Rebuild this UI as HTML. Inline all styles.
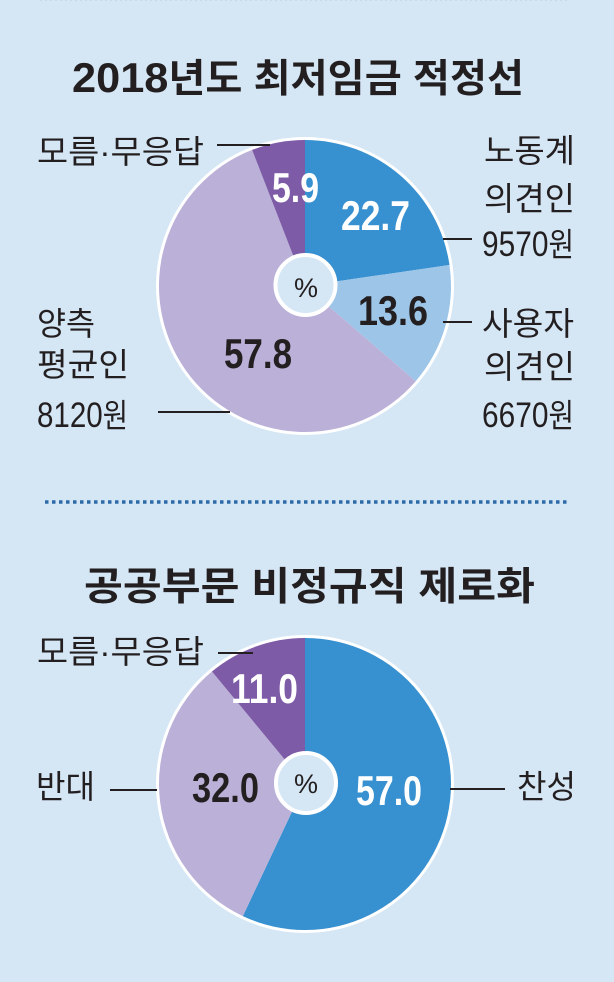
<!DOCTYPE html>
<html lang="ko">
<head>
<meta charset="utf-8">
<style>
  html, body { margin: 0; padding: 0; background: #d5e6f5; }
  body { width: 614px; height: 982px; overflow: hidden; }
  svg { display: block; }
  text { font-family: "Liberation Sans", "Noto Sans CJK KR", sans-serif; }
  .lbl { font-size: 32.5px; fill: #231f20; }
  .num { font-size: 42px; font-weight: bold; }
  .ttl { font-size: 39px; font-weight: bold; fill: #231f20; }
</style>
</head>
<body>
<svg width="614" height="982" viewBox="0 0 614 982" xmlns="http://www.w3.org/2000/svg">
  <rect x="0" y="0" width="614" height="982" fill="#d5e6f5"/>

  <!-- faint top dotted line -->
  <line x1="40" y1="0.5" x2="570" y2="0.5" stroke="#c4d0dc" stroke-width="1" stroke-dasharray="2 3" opacity="0.6"/>

  <!-- ===== Title 1 ===== -->
  <text class="ttl" x="72" y="92" textLength="452" lengthAdjust="spacingAndGlyphs"><tspan font-size="42">2018</tspan>년도 최저임금 적정선</text>

  <!-- ===== Pie 1 ===== -->
  <circle cx="305" cy="286" r="149" fill="#ffffff"/>
  <path d="M305,286 L305,140 A146,146 0 0 1 449.48,264.97 Z" fill="#3790cf"/>
  <path d="M305,286 L449.48,264.97 A146,146 0 0 1 415.70,381.19 Z" fill="#9cc5e8"/>
  <path d="M305,286 L415.70,381.19 A146,146 0 1 1 252.11,149.92 Z" fill="#bbb0d8"/>
  <path d="M305,286 L252.11,149.92 A146,146 0 0 1 305,140 Z" fill="#7d5ba6"/>
  <circle cx="305.5" cy="285" r="30" fill="#d5e6f5" stroke="#ffffff" stroke-width="4"/>
  <text x="306" y="297" font-size="27" text-anchor="middle" fill="#231f20">%</text>

  <text class="num" x="272" y="202" font-size="38" fill="#ffffff" textLength="47" lengthAdjust="spacingAndGlyphs">5.9</text>
  <text class="num" x="341" y="230" fill="#ffffff" textLength="69" lengthAdjust="spacingAndGlyphs">22.7</text>
  <text class="num" x="358" y="325" fill="#231f20" textLength="70" lengthAdjust="spacingAndGlyphs">13.6</text>
  <text class="num" x="224" y="368" fill="#231f20" textLength="68" lengthAdjust="spacingAndGlyphs">57.8</text>

  <!-- leader lines pie 1 -->
  <g stroke="#231f20" stroke-width="2">
    <line x1="217" y1="145" x2="270" y2="145"/>
    <line x1="158" y1="412" x2="230" y2="412"/>
    <line x1="443" y1="239" x2="472" y2="239"/>
    <line x1="443" y1="322" x2="472" y2="322"/>
  </g>

  <!-- labels pie 1 -->
  <text class="lbl" x="37" y="163" textLength="167" lengthAdjust="spacingAndGlyphs">모름·무응답</text>
  <text class="lbl" x="37" y="335" textLength="58" lengthAdjust="spacingAndGlyphs">양측</text>
  <text class="lbl" x="37" y="376" textLength="92" lengthAdjust="spacingAndGlyphs">평균인</text>
  <text class="lbl" x="37" y="427" textLength="91" lengthAdjust="spacingAndGlyphs"><tspan font-size="35">8120</tspan>원</text>

  <text class="lbl" x="484" y="162" textLength="91" lengthAdjust="spacingAndGlyphs">노동계</text>
  <text class="lbl" x="484" y="210" textLength="91" lengthAdjust="spacingAndGlyphs">의견인</text>
  <text class="lbl" x="482" y="256" textLength="92" lengthAdjust="spacingAndGlyphs"><tspan font-size="35">9570</tspan>원</text>
  <text class="lbl" x="482" y="335" textLength="92" lengthAdjust="spacingAndGlyphs">사용자</text>
  <text class="lbl" x="484" y="378" textLength="91" lengthAdjust="spacingAndGlyphs">의견인</text>
  <text class="lbl" x="482" y="427" textLength="92" lengthAdjust="spacingAndGlyphs"><tspan font-size="35">6670</tspan>원</text>

  <!-- dotted divider -->
  <line x1="45" y1="502" x2="567" y2="502" stroke="#2c6ba8" stroke-width="3.4" stroke-dasharray="3.5 3.5"/>

  <!-- ===== Title 2 ===== -->
  <text class="ttl" x="84" y="600" textLength="451" lengthAdjust="spacingAndGlyphs">공공부문 비정규직 제로화</text>

  <!-- ===== Pie 2 ===== -->
  <circle cx="305" cy="784" r="149" fill="#ffffff"/>
  <path d="M305,784 L305,638 A146,146 0 1 1 242.84,916.11 Z" fill="#3790cf"/>
  <path d="M305,784 L242.84,916.11 A146,146 0 0 1 211.94,671.51 Z" fill="#bbb0d8"/>
  <path d="M305,784 L211.94,671.51 A146,146 0 0 1 305,638 Z" fill="#7d5ba6"/>
  <circle cx="306" cy="783" r="30" fill="#d5e6f5" stroke="#ffffff" stroke-width="4"/>
  <text x="306" y="793" font-size="27" text-anchor="middle" fill="#231f20">%</text>

  <text class="num" x="231" y="703" font-size="39" fill="#ffffff" textLength="67" lengthAdjust="spacingAndGlyphs">11.0</text>
  <text class="num" x="192" y="802" fill="#231f20" textLength="67" lengthAdjust="spacingAndGlyphs">32.0</text>
  <text class="num" x="356" y="805" fill="#ffffff" textLength="66" lengthAdjust="spacingAndGlyphs">57.0</text>

  <!-- leader lines pie 2 -->
  <g stroke="#231f20" stroke-width="2">
    <line x1="218" y1="653" x2="253" y2="653"/>
    <line x1="110" y1="790" x2="157" y2="790"/>
    <line x1="450" y1="789" x2="505" y2="789"/>
  </g>

  <!-- labels pie 2 -->
  <text class="lbl" x="37" y="663" textLength="167" lengthAdjust="spacingAndGlyphs">모름·무응답</text>
  <text class="lbl" x="36" y="798" textLength="59" lengthAdjust="spacingAndGlyphs">반대</text>
  <text class="lbl" x="517" y="798" textLength="59" lengthAdjust="spacingAndGlyphs">찬성</text>
</svg>
</body>
</html>
